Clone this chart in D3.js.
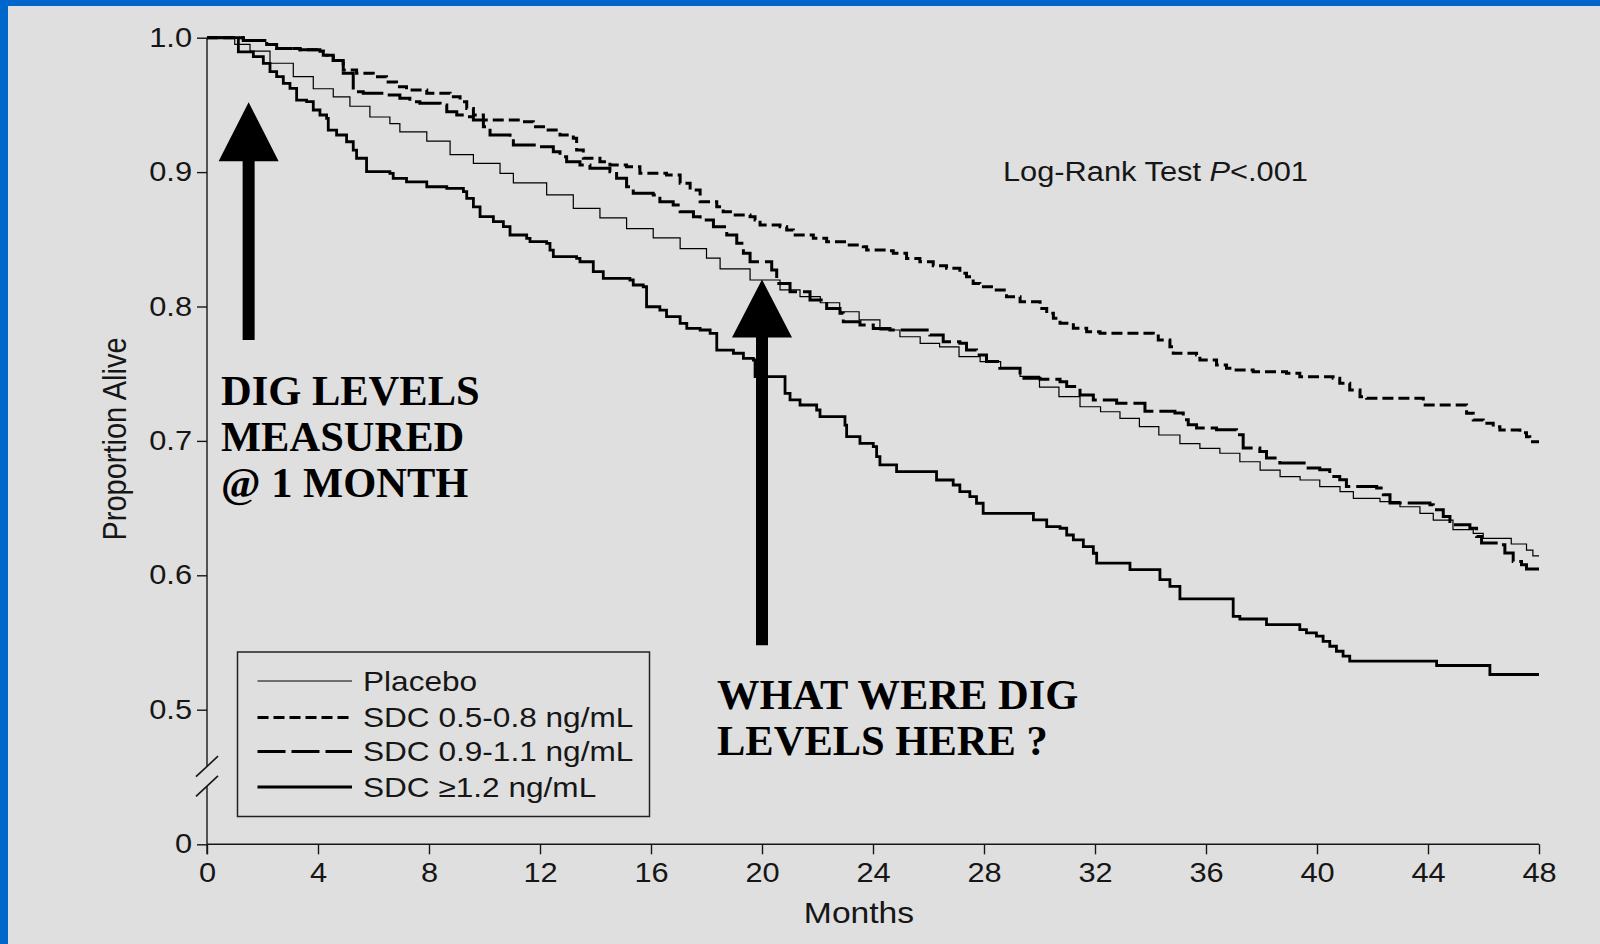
<!DOCTYPE html>
<html>
<head>
<meta charset="utf-8">
<script src="https://cdn.jsdelivr.net/npm/d3@7"></script>
<style>
  html, body { margin: 0; padding: 0; background: #dfdfdf; }
  svg { display: block; }
</style>
</head>
<body>
<svg id="chart" width="1600" height="944"></svg>
<script>
// ---------------- DATA ----------------
const seriesNames = ["Placebo", "SDC 0.5-0.8 ng/mL", "SDC 0.9-1.1 ng/mL", "SDC \u22651.2 ng/mL"];

const placebo = [
  [0,1.0],[1.0,0.995],[1.55,0.990],[2.27,0.981],[3.11,0.971],[3.83,0.962],[4.55,0.956],[5.15,0.949],
  [5.87,0.941],[6.59,0.936],[6.95,0.930],[7.92,0.923],[8.76,0.913],[9.6,0.9065],[10.56,0.899],[11.04,0.892],
  [12.24,0.883],[13.2,0.873],[14.16,0.866],[15.12,0.858],[16.08,0.851],[17.05,0.843],[18.0,0.836],[18.49,0.828],
  [19.57,0.8197],[20.65,0.8123],[21.37,0.8073],[22.1,0.8028],[22.8,0.7961],[23.5,0.790],[24.25,0.7825],
  [24.97,0.7775],[25.7,0.7726],[26.4,0.770],[27.1,0.7627],[27.86,0.759],[28.6,0.754],[29.3,0.748],[30.0,0.740],
  [30.7,0.733],[31.46,0.7254],[32.2,0.7217],[32.9,0.7168],[33.6,0.7106],[34.3,0.7044],[35.06,0.698],
  [35.78,0.6945],[36.5,0.6908],[37.22,0.6845],[37.95,0.6783],[38.67,0.6734],[39.39,0.6709],[40.1,0.666],
  [40.83,0.6622],[41.31,0.6573],[42.27,0.6548],[42.99,0.651],[43.71,0.6461],[44.19,0.6411],[44.9,0.634],
  [45.63,0.6312],[45.99,0.6275],[47.0,0.6233],[47.55,0.6188],[47.78,0.6144],[48,0.6144]
];

const sdc05 = [
  [0,1.0],[1.31,0.998],[2.15,0.995],[2.51,0.992],[3.35,0.991],[4.07,0.990],[4.19,0.987],[4.55,0.983],
  [4.91,0.976],[5.39,0.9735],[5.99,0.971],[6.47,0.967],[6.83,0.9635],[7.19,0.961],[7.92,0.9586],[8.76,0.956],
  [9.12,0.9524],[9.36,0.9474],[9.6,0.9425],[9.96,0.9388],[11.28,0.9375],[11.76,0.9338],[12.24,0.9313],
  [12.72,0.9276],[13.2,0.9251],[13.32,0.9164],[13.56,0.9103],[14.16,0.9077],[14.52,0.9053],[15.12,0.904],
  [15.6,0.8991],[16.56,0.8978],[17.05,0.8917],[17.41,0.8867],[17.77,0.878],[18.37,0.8743],[18.6,0.8705],
  [18.97,0.8681],[19.57,0.8668],[19.75,0.8644],[19.93,0.8606],[20.65,0.8594],[20.89,0.8569],[21.13,0.8532],
  [21.85,0.8507],[22.33,0.8482],[23.05,0.8458],[23.65,0.8445],[23.77,0.842],[24.49,0.8415],[24.73,0.8396],
  [25.21,0.8358],[25.69,0.8333],[26.17,0.8304],[26.65,0.8284],[27.13,0.8247],[27.37,0.8222],[27.61,0.8172],
  [27.85,0.8147],[28.33,0.8123],[28.81,0.8073],[29.3,0.8036],[30.02,0.7986],[30.26,0.7949],[30.5,0.7912],
  [30.74,0.7875],[31.22,0.7838],[31.7,0.7813],[32.18,0.7801],[34.1,0.7781],[34.28,0.7751],[34.7,0.7701],
  [34.82,0.7652],[35.66,0.7639],[35.78,0.7602],[36.38,0.7565],[36.74,0.754],[36.98,0.7527],[37.7,0.7515],
  [38.9,0.7503],[39.38,0.7478],[40.58,0.7466],[40.82,0.7429],[41.18,0.7379],[41.55,0.7329],[41.79,0.7317],
  [43.83,0.7267],[45.39,0.7205],[45.63,0.7155],[45.99,0.7131],[46.35,0.7106],[46.59,0.7081],[47.31,0.7061],
  [47.55,0.7031],[47.67,0.6994],[48,0.6994]
];

const sdc09 = [
  [0,1.0],[1.31,0.998],[2.15,0.995],[2.51,0.992],[3.35,0.991],[4.07,0.990],[4.19,0.987],[4.55,0.983],
  [4.91,0.9735],[5.27,0.9598],[5.63,0.9586],[6.47,0.9574],[6.95,0.9549],[7.31,0.9524],[7.67,0.9512],
  [8.4,0.9499],[8.64,0.9449],[9.0,0.9425],[9.36,0.9412],[9.6,0.9388],[9.96,0.9338],[10.2,0.9276],
  [10.92,0.9251],[11.04,0.9202],[11.88,0.9189],[12.48,0.9152],[12.72,0.9115],[12.96,0.9077],[13.44,0.9053],
  [13.8,0.9028],[14.52,0.9003],[14.76,0.8954],[15.12,0.8891],[15.36,0.8842],[16.08,0.883],[16.32,0.878],
  [16.8,0.8755],[17.05,0.8705],[17.53,0.8668],[17.77,0.8644],[18.25,0.8594],[18.73,0.8532],[19.09,0.847],
  [19.33,0.8396],[19.57,0.8333],[20.35,0.8271],[20.53,0.8172],[21.01,0.811],[21.73,0.8048],[22.33,0.7986],
  [22.81,0.7949],[22.93,0.7887],[23.53,0.7862],[24.01,0.7837],[24.61,0.7825],[26.05,0.7788],[26.53,0.7738],
  [27.13,0.7726],[27.37,0.7676],[27.73,0.7639],[28.09,0.759],[28.57,0.754],[29.3,0.7466],[30.02,0.7458],
  [30.74,0.7441],[30.98,0.7404],[31.46,0.7342],[31.94,0.7305],[32.78,0.728],[33.8,0.722],[34.88,0.7207],
  [35.18,0.7158],[35.36,0.712],[35.66,0.7096],[36.38,0.7083],[37.1,0.7046],[37.34,0.6947],[37.94,0.6922],
  [38.18,0.6872],[38.66,0.6835],[39.62,0.6798],[40.1,0.6785],[40.46,0.6736],[40.82,0.6711],[41.06,0.6661],
  [42.15,0.6649],[42.39,0.66],[42.63,0.6538],[44.07,0.6525],[44.19,0.6488],[44.55,0.6438],[44.79,0.6401],
  [44.91,0.6376],[45.51,0.6351],[45.75,0.6289],[45.93,0.624],[46.59,0.6227],[46.77,0.6165],[47.07,0.6103],
  [47.37,0.6078],[47.55,0.6046],[48,0.6046]
];

const sdc12 = [
  [0,1.0],[1.13,0.9894],[1.67,0.9859],[2.03,0.9809],[2.27,0.9747],[2.51,0.971],[2.75,0.966],[2.99,0.9623],
  [3.23,0.9536],[3.59,0.9524],[3.83,0.9462],[4.07,0.9425],[4.31,0.94],[4.37,0.9313],[4.67,0.9276],
  [5.03,0.9226],[5.27,0.9164],[5.39,0.9103],[5.75,0.9003],[6.59,0.8991],[6.71,0.8953],[7.19,0.8928],
  [7.92,0.8891],[8.64,0.8879],[9.24,0.8854],[9.36,0.8804],[9.6,0.8742],[9.84,0.8668],[10.32,0.8631],
  [10.68,0.8594],[10.92,0.8532],[11.52,0.8507],[11.64,0.8482],[12.24,0.847],[12.36,0.842],[12.48,0.8371],
  [13.32,0.8358],[13.44,0.8333],[13.92,0.8259],[14.28,0.8209],[15.24,0.8197],[15.36,0.816],[15.72,0.8147],
  [15.84,0.7998],[16.32,0.7973],[16.56,0.7924],[17.05,0.7874],[17.29,0.7837],[17.77,0.7825],[18.13,0.78],
  [18.37,0.7676],[18.97,0.7652],[19.33,0.7614],[19.69,0.7602],[19.75,0.7478],[20.83,0.7354],[21.01,0.7305],
  [21.37,0.7267],[21.97,0.723],[22.09,0.718],[22.99,0.7118],[23.05,0.7032],[23.53,0.6982],[24.01,0.6957],
  [24.13,0.6883],[24.25,0.6821],[24.85,0.6771],[26.29,0.6709],[26.89,0.6672],[27.13,0.6622],[27.49,0.6585],
  [27.73,0.6536],[27.97,0.6461],[29.78,0.6412],[30.26,0.6362],[30.74,0.635],[30.98,0.63],[31.22,0.6263],
  [31.58,0.6214],[31.94,0.6164],[32.06,0.609],[33.26,0.6042],[34.34,0.5968],[34.7,0.5918],[35.06,0.5824],
  [36.98,0.5695],[37.22,0.5675],[38.18,0.5633],[39.38,0.5596],[39.62,0.5571],[39.98,0.5547],[40.22,0.5509],
  [40.46,0.5472],[40.7,0.5435],[40.94,0.5398],[41.18,0.5361],[44.31,0.5329],[46.23,0.5262],[48,0.5262]
];

const xTicks = [0,4,8,12,16,20,24,28,32,36,40,44,48];
const yTicks = [0,0.5,0.6,0.7,0.8,0.9,1.0];
const yTickLabels = ["0","0.5","0.6","0.7","0.8","0.9","1.0"];
const xTitle = "Months";
const yTitle = "Proportion Alive";

// arrows in data units: month, tip, head base, tail
const arrowMonths = [1.5, 20];
const arrowTips   = [0.952, 0.820];
const arrowBases  = [0.908, 0.777];
const arrowTails  = [0.775, 0.548];

const note1 = ["DIG LEVELS", "MEASURED", "@ 1 MONTH"];
const note2 = ["WHAT WERE DIG", "LEVELS HERE ?"];

// ---------------- DRAW ----------------
const svg = d3.select("#chart");
const W = 1600, H = 944;

svg.append("rect").attr("width", W).attr("height", H).attr("fill", "#dfdfdf");
svg.append("rect").attr("x", 0).attr("y", 0).attr("width", 8).attr("height", H).attr("fill", "#0066cc");
svg.append("rect").attr("x", 0).attr("y", 0).attr("width", W).attr("height", 6).attr("fill", "#0066cc");

const x = d3.scaleLinear().domain([0, 48]).range([207, 1539]);
// broken axis: 0..0.5 compressed into one interval
const y = d3.scaleLinear().domain([0, 0.5, 1.0]).range([844.3, 709.7, 37.7]);

const sans = "'Liberation Sans', Arial, Helvetica, sans-serif";
const serif = "'Liberation Serif', 'Times New Roman', serif";
const ink = "#161616";
const SX = 1.14; // the source figure's lettering is horizontally wide

// X axis
const xAxis = svg.append("g").attr("transform", `translate(0,${y(0)})`)
  .call(d3.axisBottom(x).tickValues(xTicks).tickSize(10).tickPadding(9).tickFormat(d3.format("d")));
xAxis.select(".domain").attr("stroke", ink).attr("stroke-width", 1.4).attr("d", `M${x(0)},0H${x(48)}`);
xAxis.selectAll(".tick line").attr("stroke", ink).attr("stroke-width", 1.4);
xAxis.selectAll(".tick text").attr("fill", ink).style("font-family", sans).style("font-size", "27px")
  .attr("transform", `scale(${SX},1)`);

// Y axis
const yAxis = svg.append("g").attr("transform", `translate(${x(0)},0)`)
  .call(d3.axisLeft(y).tickValues(yTicks).tickSize(10).tickPadding(5)
        .tickFormat((d, i) => yTickLabels[i]));
yAxis.select(".domain").remove();
yAxis.selectAll(".tick line").attr("stroke", ink).attr("stroke-width", 1.4);
yAxis.selectAll(".tick text").attr("fill", ink).style("font-family", sans).style("font-size", "27px")
  .attr("x", 0).attr("transform", `translate(-15,0) scale(${SX},1)`);

// axis line with break
const brkTop = y(0.5) + 57, brkBot = y(0) - 58;
yAxis.append("line").attr("x1", 0).attr("x2", 0).attr("y1", y(1.0)).attr("y2", brkTop)
  .attr("stroke", ink).attr("stroke-width", 1.4);
yAxis.append("line").attr("x1", 0).attr("x2", 0).attr("y1", brkBot).attr("y2", y(0) + 10)
  .attr("stroke", ink).attr("stroke-width", 1.4);
[brkTop + 10, brkBot + 10].forEach(cy => {
  yAxis.append("line").attr("x1", -11).attr("y1", cy).attr("x2", 11).attr("y2", cy - 20.5)
    .attr("stroke", ink).attr("stroke-width", 1.6);
});

// Axis titles
svg.append("text").attr("transform", `translate(859,923) scale(1.16,1)`).attr("text-anchor", "middle")
  .attr("fill", ink).style("font-family", sans).style("font-size", "29px").text(xTitle);
svg.append("text").attr("transform", "translate(126,439) rotate(-90) scale(1,1.15)").attr("text-anchor", "middle")
  .attr("fill", ink).style("font-family", sans).style("font-size", "29px").text(yTitle);

// Curves
const line = d3.line().x(d => x(d[0])).y(d => y(d[1])).curve(d3.curveStepAfter);
const styles = [
  { data: placebo, width: 1.2, dash: null },
  { data: sdc05,   width: 3.0, dash: "11,5" },
  { data: sdc09,   width: 3.0, dash: "28,6" },
  { data: sdc12,   width: 2.8, dash: null }
];
const curves = svg.append("g");
styles.forEach(s => {
  curves.append("path").datum(s.data).attr("d", line).attr("fill", "none")
    .attr("stroke", "#000").attr("stroke-width", s.width)
    .attr("stroke-dasharray", s.dash).attr("stroke-linecap", "butt").attr("stroke-linejoin", "miter");
});

// Log-rank text
const lr = svg.append("text").attr("transform", "translate(1003,181) scale(1.1,1)").attr("fill", ink)
  .style("font-family", sans).style("font-size", "28px");
lr.append("tspan").text("Log-Rank Test ");
lr.append("tspan").style("font-style", "italic").text("P");
lr.append("tspan").text("<.001");

// Legend
const lg = svg.append("g");
lg.append("rect").attr("x", 237.5).attr("y", 652).attr("width", 412).attr("height", 164.5)
  .attr("fill", "none").attr("stroke", "#222").attr("stroke-width", 1.5);
const rowY = [681, 717.5, 751.5, 787];
styles.forEach((s, i) => {
  lg.append("line").attr("x1", 257.5).attr("x2", 352).attr("y1", rowY[i]).attr("y2", rowY[i])
    .attr("stroke", "#000").attr("stroke-width", s.width).attr("stroke-dasharray", s.dash);
  lg.append("text").attr("transform", `translate(363,${rowY[i]}) scale(1.17,1)`).attr("dy", "0.36em").attr("fill", ink)
    .style("font-family", sans).style("font-size", "27px").text(seriesNames[i]);
});

// Arrows
const arrows = svg.append("g");
arrowMonths.forEach((m, i) => {
  const cx = x(m), tip = y(arrowTips[i]), base = y(arrowBases[i]), tail = y(arrowTails[i]);
  arrows.append("path")
    .attr("d", `M${cx},${tip}L${cx + 30},${base}L${cx + 6},${base}L${cx + 6},${tail}L${cx - 6},${tail}L${cx - 6},${base}L${cx - 30},${base}Z`)
    .attr("fill", "#000");
});

// Annotations
const n1 = svg.append("text").attr("fill", "#000").style("font-family", serif)
  .style("font-size", "42.5px").style("font-weight", "bold");
note1.forEach((t, i) => n1.append("tspan").attr("x", 221).attr("y", 405 + i * 46).text(t));
const n2 = svg.append("text").attr("fill", "#000").style("font-family", serif)
  .style("font-size", "42.5px").style("font-weight", "bold");
note2.forEach((t, i) => n2.append("tspan").attr("x", 717).attr("y", 709 + i * 46).text(t));
</script>
</body>
</html>
